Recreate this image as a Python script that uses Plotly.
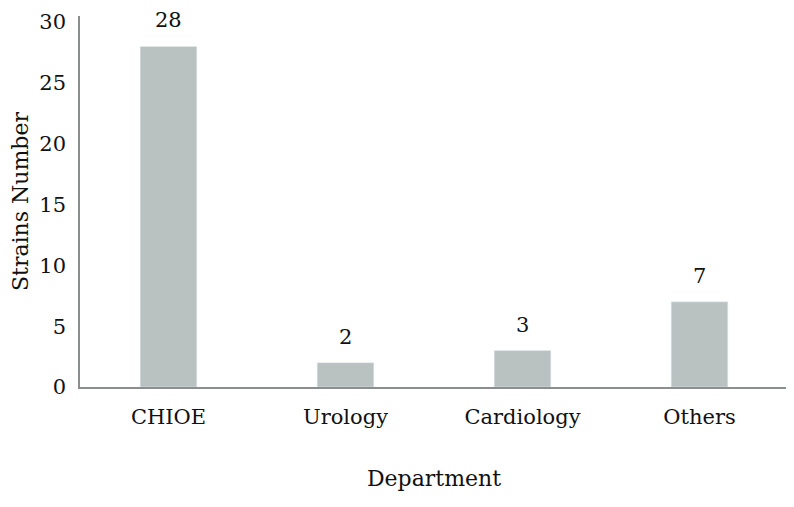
import plotly.graph_objects as go

categories = ["CHIOE", "Urology", "Cardiology", "Others"]
values = [28, 2, 3, 7]
y_ticks = [0, 5, 10, 15, 20, 25, 30]

FONT = "DejaVu Serif"
BAR = "#b9c2c1"
AXIS = "#8a8f8e"

fig = go.Figure(go.Bar(x=categories, y=values, marker_color=BAR, width=0.32,
                       hoverinfo="x+y"))

for c, v in zip(categories, values):
    fig.add_annotation(x=c, y=v, text=str(v), showarrow=False, yanchor="bottom",
                       yshift=12, font=dict(family=FONT, size=21, color="#111"))

fig.update_layout(
    width=786, height=499,
    margin=dict(l=72, r=6, t=8, b=120),
    plot_bgcolor="white", paper_bgcolor="white",
    showlegend=False,
    font=dict(family=FONT, size=21, color="#111"),
    xaxis=dict(showline=True, linecolor=AXIS, linewidth=1.5, showgrid=False,
               ticks="", ticklabelstandoff=10, automargin=False,
               title=dict(text="Department", standoff=43, font=dict(size=22))),
    yaxis=dict(range=[0, 30.5], tickvals=y_ticks, showline=True, linecolor=AXIS,
               linewidth=1.5, showgrid=False, zeroline=False, ticks="",
               ticklabelstandoff=8, automargin=False,
               title=dict(text="Strains Number", standoff=27, font=dict(size=22))),
)

fig.write_html("out.html")
